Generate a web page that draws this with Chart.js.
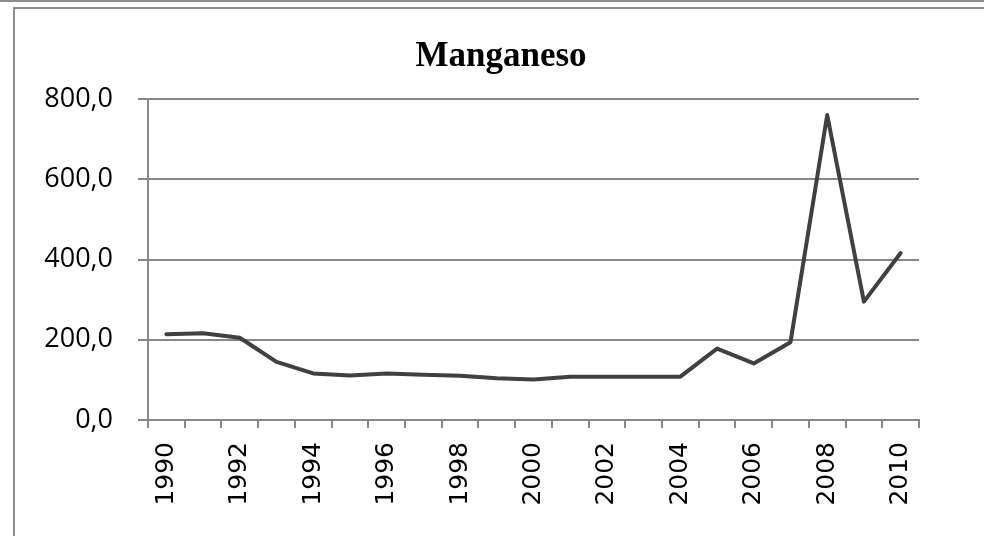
<!DOCTYPE html>
<html lang="es">
<head>
  <meta charset="UTF-8">
  <title>Manganeso</title>
  <style>
    body {
      margin: 0;
      padding: 0;
      background: #fff;
    }

    .wrap {
      position: relative;
      width: 984px;
      height: 536px;
      overflow: hidden;
    }

    .top-line {
      position: absolute;
      left: 0;
      top: 0;
      width: 984px;
      height: 2px;
      background: #8c8c8c;
    }

    .frame {
      position: absolute;
      left: 13px;
      top: 7px;
      width: 1000px;
      height: 600px;
      border-left: 2px solid #8c8c8c;
      border-top: 2px solid #8c8c8c;
    }

    #chart {
      position: absolute;
      left: 0;
      top: 0;
    }
  </style>
</head>
<body>
<div class="wrap">
  <div class="top-line"></div>
  <div class="frame"></div>
  <canvas id="chart" width="984" height="536"></canvas>
</div>

<script src="https://cdn.jsdelivr.net/npm/chart.js"></script>
<script>
  const years = ['1990', '1991', '1992', '1993', '1994', '1995', '1996', '1997', '1998', '1999', '2000',
                 '2001', '2002', '2003', '2004', '2005', '2006', '2007', '2008', '2009', '2010'];
  const manganeso = [214, 216, 205, 145, 116, 111, 116, 113, 110, 104, 101,
                     108, 108, 108, 108, 178, 141, 194, 760, 295, 416];
  const yTicks = [0, 200, 400, 600, 800];
  const chartTitle = 'Manganeso';

  const gridGray = '#888888';

  // title is centred on the frame, not on the plot area, so it is drawn by hand
  const frameTitle = {
    id: 'frameTitle',
    afterDraw(chart) {
      const c = chart.ctx;
      c.save();
      c.font = "bold 35px 'Liberation Serif', 'Times New Roman', serif";
      c.fillStyle = '#000';
      c.textAlign = 'center';
      c.textBaseline = 'alphabetic';
      c.fillText(chartTitle, 501, 66);
      c.restore();
    }
  };

  const ctx = document.getElementById('chart').getContext('2d');
  new Chart(ctx, {
    type: 'line',
    data: {
      labels: years,
      datasets: [{
        label: chartTitle,
        data: manganeso,
        borderColor: '#404040',
        borderWidth: 4,
        borderJoinStyle: 'round',
        borderCapStyle: 'round',
        pointRadius: 0,
        tension: 0,
        fill: false
      }]
    },
    plugins: [frameTitle],
    options: {
      responsive: false,
      animation: false,
      layout: { padding: { left: 0, right: 65, top: 99, bottom: 0 } },
      plugins: {
        legend: { display: false },
        tooltip: { enabled: false },
        title: { display: false }
      },
      scales: {
        x: {
          offset: true,
          grid: {
            offset: true,
            drawOnChartArea: false,
            drawTicks: true,
            tickLength: 8,
            color: gridGray,
            lineWidth: 2
          },
          border: { color: gridGray, width: 2 },
          ticks: {
            autoSkip: false,
            maxRotation: 90,
            minRotation: 90,
            padding: 14,
            color: '#000',
            font: { family: "'DejaVu Sans', sans-serif", size: 25 },
            callback: function (value, index) {
              return index % 2 === 0 ? years[index] : '';
            }
          },
          afterFit: function (scale) { scale.height = 116; }
        },
        y: {
          min: 0,
          max: 800,
          afterBuildTicks: function (scale) {
            scale.ticks = yTicks.map(v => ({ value: v }));
          },
          grid: {
            color: gridGray,
            lineWidth: 2,
            drawTicks: true,
            tickLength: 10
          },
          border: { color: gridGray, width: 2 },
          ticks: {
            padding: 25,
            color: '#000',
            font: { family: "'Open Sans', sans-serif", size: 27 },
            callback: function (value) {
              return value.toFixed(1).replace('.', ',');
            }
          },
          afterFit: function (scale) { scale.width = 148; }
        }
      }
    }
  });
</script>
</body>
</html>
